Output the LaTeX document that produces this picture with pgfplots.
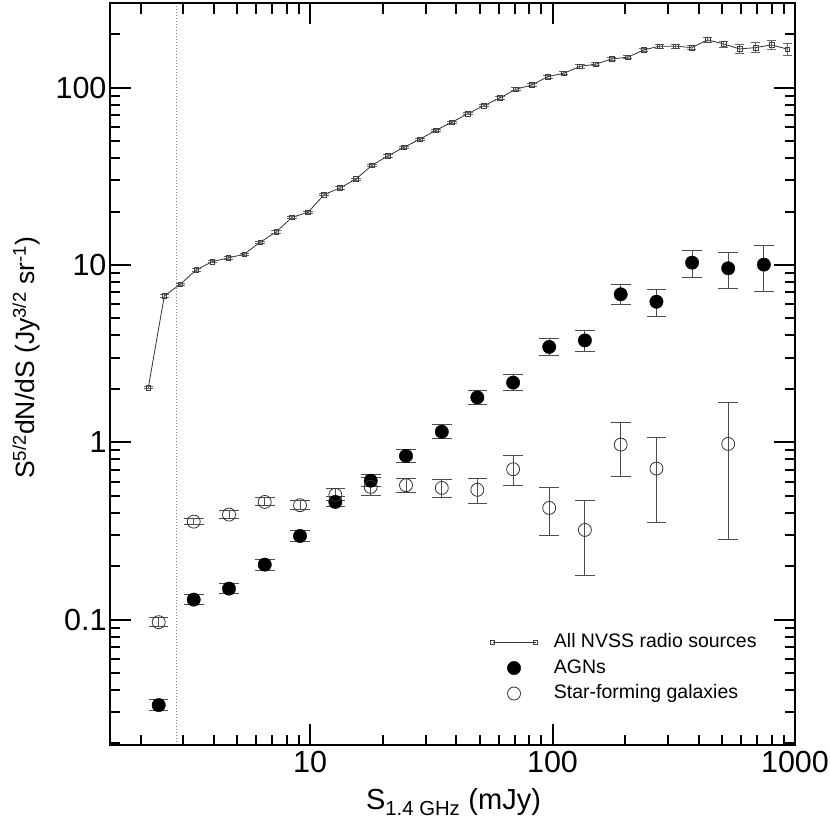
\documentclass[border=0pt]{standalone}
\usepackage{fontspec}
\setmainfont{Liberation Sans}
\usepackage{pgfplots}
\pgfplotsset{compat=1.18}
\usepackage{pgfplotstable}

\pgfplotsset{
  lineleg/.style={legend image code/.code={\draw[##1] plot coordinates {(0pt,0pt) (43pt,0pt)}; \path (61pt,0pt);}},
  markleg/.style={legend image code/.code={\draw[mark repeat=2,mark phase=2,##1] plot coordinates {(0pt,0pt) (21.5pt,0pt) (43pt,0pt)}; \path (61pt,0pt);}},
}

\pgfplotstableread{
x y e
2.154 2.03 0.015
2.507 6.68 0.015
2.917 7.78 0.015
3.396 9.37 0.015
3.953 10.44 0.015
4.600 10.95 0.015
5.354 11.49 0.015
6.231 13.43 0.015
7.252 15.36 0.015
8.440 18.58 0.015
9.822 19.82 0.015
11.43 24.9 0.015
13.30 27.2 0.015
15.48 30.5 0.015
18.02 36.5 0.015
20.97 41.2 0.015
24.41 46.1 0.015
28.41 51.2 0.015
33.07 57.5 0.015
38.48 63.8 0.015
44.79 71.3 0.015
52.13 79.1 0.015
60.67 87.4 0.018
70.61 97.9 0.018
82.18 103.5 0.018
95.65 115.3 0.018
111.3 120.5 0.02
129.6 131.7 0.02
150.8 135.6 0.02
175.5 145.2 0.02
204.3 148.4 0.02
237.7 163.2 0.022
276.7 171.3 0.026
322.0 171.3 0.026
374.8 168.2 0.026
436.2 185.8 0.036
507.7 176.3 0.04
590.9 165.2 0.056
687.7 168.2 0.064
800.4 174.1 0.062
931.6 164.8 0.08
}\nvss

\pgfplotstableread{
x y ep em
2.377 0.0329 0.078 0.073
3.315 0.1295 0.067 0.063
4.634 0.1494 0.067 0.063
6.506 0.2040 0.074 0.069
9.095 0.296 0.076 0.071
12.72 0.4605 0.067 0.063
17.80 0.607 0.081 0.075
24.88 0.837 0.085 0.079
34.96 1.146 0.095 0.087
48.97 1.789 0.095 0.087
68.8 2.169 0.110 0.099
96.9 3.447 0.115 0.103
136.0 3.752 0.139 0.130
191.1 6.828 0.130 0.126
268.3 6.200 0.169 0.177
376.5 10.30 0.176 0.172
530.3 9.568 0.223 0.235
744.2 10.04 0.280 0.296
}\agn

\pgfplotstableread{
x y ep em
2.377 0.0966 0.060 0.057
3.315 0.3566 0.040 0.038
4.634 0.3905 0.049 0.047
6.506 0.4605 0.053 0.051
9.095 0.4413 0.063 0.059
12.72 0.5045 0.081 0.075
17.80 0.5598 0.124 0.110
24.88 0.5722 0.095 0.087
34.96 0.5525 0.110 0.122
48.97 0.5388 0.161 0.164
68.8 0.7040 0.192 0.185
96.9 0.4260 0.307 0.305
136.0 0.3201 0.458 0.450
191.1 0.9694 0.331 0.340
268.3 0.7105 0.496 0.504
530.3 0.978 0.714 0.710
}\sfg

\begin{document}
\begin{tikzpicture}
\begin{axis}[
  at={(0pt,0pt)}, anchor=south west,
  scale only axis, width=685pt, height=741.7pt,
  xmode=log, ymode=log,
  xmin=1.497, xmax=1000, ymin=0.0196, ymax=299,
  axis line style={line width=2pt, black},
  tick align=inside,
  major tick length=21pt, minor tick length=10.5pt,
  every tick/.style={line width=2pt, black},
  xtick={10,100,1000}, xticklabels={10,100,1000},
  ytick={0.1,1,10,100}, yticklabels={0.1,1,10,100},
  minor xtick={2,3,4,5,6,7,8,9,20,30,40,50,60,70,80,90,200,300,400,500,600,700,800,900},
  minor ytick={0.02,0.03,0.04,0.05,0.06,0.07,0.08,0.09,0.2,0.3,0.4,0.5,0.6,0.7,0.8,0.9,2,3,4,5,6,7,8,9,20,30,40,50,60,70,80,90,200},
  /pgf/number format/assume math mode=true,
  tick label style={font=\fontsize{30.5}{36}\selectfont},
  xticklabel style={yshift=-3pt},
  xlabel={S\textsubscript{1.4 GHz} (mJy)},
  ylabel={S\textsuperscript{5/2}dN/dS (Jy\textsuperscript{3/2} sr\textsuperscript{-1})},
  every axis x label/.style={at={(axis description cs:0.5015,-0.0876)}, anchor=base, font=\fontsize{29}{34}\selectfont},
  every axis y label/.style={at={(axis description cs:-0.1095,0.522)}, rotate=90, anchor=base, font=\fontsize{26.5}{32}\selectfont},
  legend cell align=left,
  legend style={draw=none, fill=none, at={(axis description cs:0.5504,0.1556)}, anchor=north west,
    font=\fontsize{19.5}{23}\selectfont, row sep=4pt,
    nodes={inner xsep=0pt, inner ysep=1.75pt, text height=14pt, text depth=4pt}},
  axis on top,
]
\addplot[gray, dotted, line width=1pt, forget plot] coordinates {(2.802,0.0196) (2.802,299)};

\addplot[black!80, line width=0.8pt, mark=square, mark size=2.3pt,
  mark options={solid, black!75, line width=0.7pt}, lineleg,
  error bars/.cd, y dir=both, y explicit relative,
  error bar style={line width=0.8pt, black!60},
  error mark=-, error mark options={rotate=90, mark size=4.7pt, line width=0.8pt, black!60}]
  table[x=x, y=y, y error=e] {\nvss};
\addlegendentry{All NVSS radio sources}

\addplot[only marks, mark=*, mark size=6.7pt, mark options={black, fill=black}, markleg,
  error bars/.cd, y dir=both, y explicit relative,
  error bar style={line width=1pt, black!70},
  error mark=-, error mark options={rotate=90, mark size=9.8pt, line width=1pt, black!70}]
  table[x=x, y=y, y error plus=ep, y error minus=em] {\agn};
\addlegendentry{AGNs}

\addplot[only marks, mark=o, mark size=6.5pt, mark options={black!80, line width=0.8pt}, markleg,
  error bars/.cd, y dir=both, y explicit relative,
  error bar style={line width=1pt, black!70},
  error mark=-, error mark options={rotate=90, mark size=9.8pt, line width=1pt, black!70}]
  table[x=x, y=y, y error plus=ep, y error minus=em] {\sfg};
\addlegendentry{Star-forming galaxies}
\end{axis}
\pgfresetboundingbox
\path[use as bounding box] (-110pt,-79pt) rectangle (720pt,745pt);
\end{tikzpicture}
\end{document}
